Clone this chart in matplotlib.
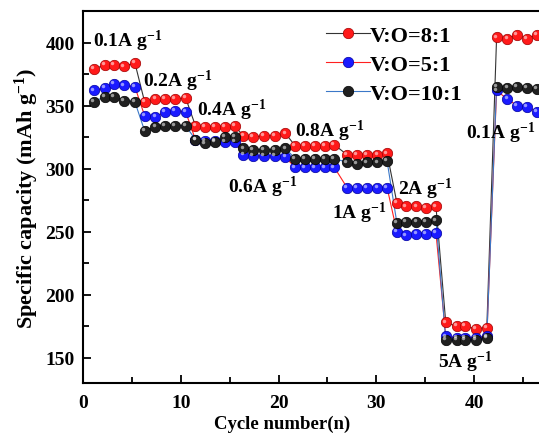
import matplotlib
matplotlib.use("Agg")
import matplotlib.pyplot as plt
import matplotlib.transforms as mtransforms
from matplotlib.lines import Line2D
from matplotlib.ticker import FixedLocator, MultipleLocator

plt.rcParams['font.family'] = 'Liberation Serif'
plt.rcParams['font.weight'] = 'bold'
plt.rcParams['mathtext.fontset'] = 'custom'
plt.rcParams['mathtext.rm'] = 'Liberation Serif:bold'
plt.rcParams['mathtext.bf'] = 'Liberation Serif:bold'
plt.rcParams['mathtext.default'] = 'bf'

# cycle index of each measured point (5 cycles per current density)
cycles = [1.1, 2.2, 3.2, 4.2, 5.3,
          6.3, 7.4, 8.4, 9.4, 10.5,
          11.5, 12.5, 13.5, 14.5, 15.5,
          16.4, 17.4, 18.5, 19.6, 20.7,
          21.7, 22.7, 23.7, 24.7, 25.7,
          27.0, 28.0, 29.0, 30.1, 31.1,
          32.1, 33.0, 34.1, 35.1, 36.1,
          37.1, 38.2, 39.1, 40.2, 41.3,
          42.3, 43.4, 44.4, 45.4, 46.4]

cap_8_1 = [379, 382, 382, 381, 384,
           353, 355, 355, 355, 356,
           334, 333, 333, 333, 334,
           326, 325, 326, 326, 328,
           318, 318, 318, 318, 319,
           311, 311, 311, 311, 312,
           273, 270, 270, 269, 270,
           178, 175, 175, 173, 174,
           404, 403, 406, 403, 406]

cap_5_1 = [362, 364, 367, 366, 365,
           342, 341, 345, 346, 345,
           323, 322, 322, 321, 321,
           311, 310, 310, 310, 309,
           301, 301, 301, 301, 301,
           285, 285, 285, 285, 285,
           250, 247, 248, 248, 249,
           167, 166, 166, 166, 167,
           362, 355, 350, 349, 345]

cap_10_1 = [353, 357, 357, 354, 353,
            330, 333, 334, 334, 334,
            323, 320, 321, 325, 325,
            316, 315, 315, 315, 316,
            308, 308, 308, 308, 308,
            305, 304, 305, 305, 306,
            257, 258, 258, 258, 259,
            164, 164, 164, 164, 166,
            365, 364, 365, 364, 363]

series = [
    ('V:O=8:1', cap_8_1, '#ff1a1a', '#a00000', '#333333'),
    ('V:O=5:1', cap_5_1, '#1a1aff', '#0000a0', '#ff2020'),
    ('V:O=10:1', cap_10_1, '#202020', '#000000', '#3b78c8'),
]

rate_labels = ['0.1A', '0.2A', '0.4A', '0.6A', '0.8A', '1A', '2A', '5A', '0.1A']
rate_label_x = [1.0, 6.1, 11.7, 14.8, 21.7, 25.5, 32.2, 36.3, 39.2]
rate_label_y = [402, 370, 347, 286, 330, 265, 284, 147, 329]

fig = plt.figure(figsize=(5.39, 4.39), dpi=100)
ax = fig.add_axes([0.154, 0.1253, 0.907, 0.8474])

highlight = mtransforms.offset_copy(ax.transData, fig=fig, x=-1.3, y=1.3, units='points')
handles = []
for name, vals, face, edge, line in series:
    ax.plot(cycles, vals, '-', color=line, lw=0.8, zorder=2)
    ax.plot(cycles, vals, 'o', ms=7.5, mfc=face, mec=edge, mew=0.5, zorder=3)
    ax.plot(cycles, vals, 'o', ms=2.5, mfc='white', mec='none', alpha=0.55,
            transform=highlight, zorder=4)
    handles.append(Line2D([0], [0], color=line, lw=0.8, marker='o', ms=7.5,
                          mfc=face, mec=edge, mew=0.5, label=name))

for txt, x, y in zip(rate_labels, rate_label_x, rate_label_y):
    ax.text(x, y, txt + r' g$^{-1}$', fontsize=14, fontweight='bold',
            ha='left', va='center', zorder=5)

ax.legend(handles=handles, loc='upper left', bbox_to_anchor=(0.457, 1.015),
          frameon=False, fontsize=16, handlelength=1.95, handletextpad=0.0,
          labelspacing=0.38)

ax.set_xlim(0, 50)
ax.set_ylim(130, 425)
ax.xaxis.set_major_locator(FixedLocator([0, 10, 20, 30, 40]))
ax.xaxis.set_minor_locator(FixedLocator([5, 15, 25, 35, 45]))
ax.yaxis.set_major_locator(MultipleLocator(50))
ax.yaxis.set_minor_locator(MultipleLocator(25))
ax.tick_params(which='both', direction='in', top=False, right=False,
               labelsize=14, width=1.3)
ax.tick_params(which='major', length=6, pad=6)
ax.tick_params(axis='x', which='major', pad=8)
ax.tick_params(which='minor', length=4)
for s in ax.spines.values():
    s.set_linewidth(1.5)

ax.set_xlabel('Cycle number(n)', fontsize=13.5, fontweight='bold')
ax.set_ylabel(r'Specific capacity (mAh g$^{-1}$)', fontsize=16, fontweight='bold')
ax.xaxis.set_label_coords(0.407, -0.085)
ax.yaxis.set_label_coords(-0.085, 0.5)

fig.savefig('out.png', dpi=100)
